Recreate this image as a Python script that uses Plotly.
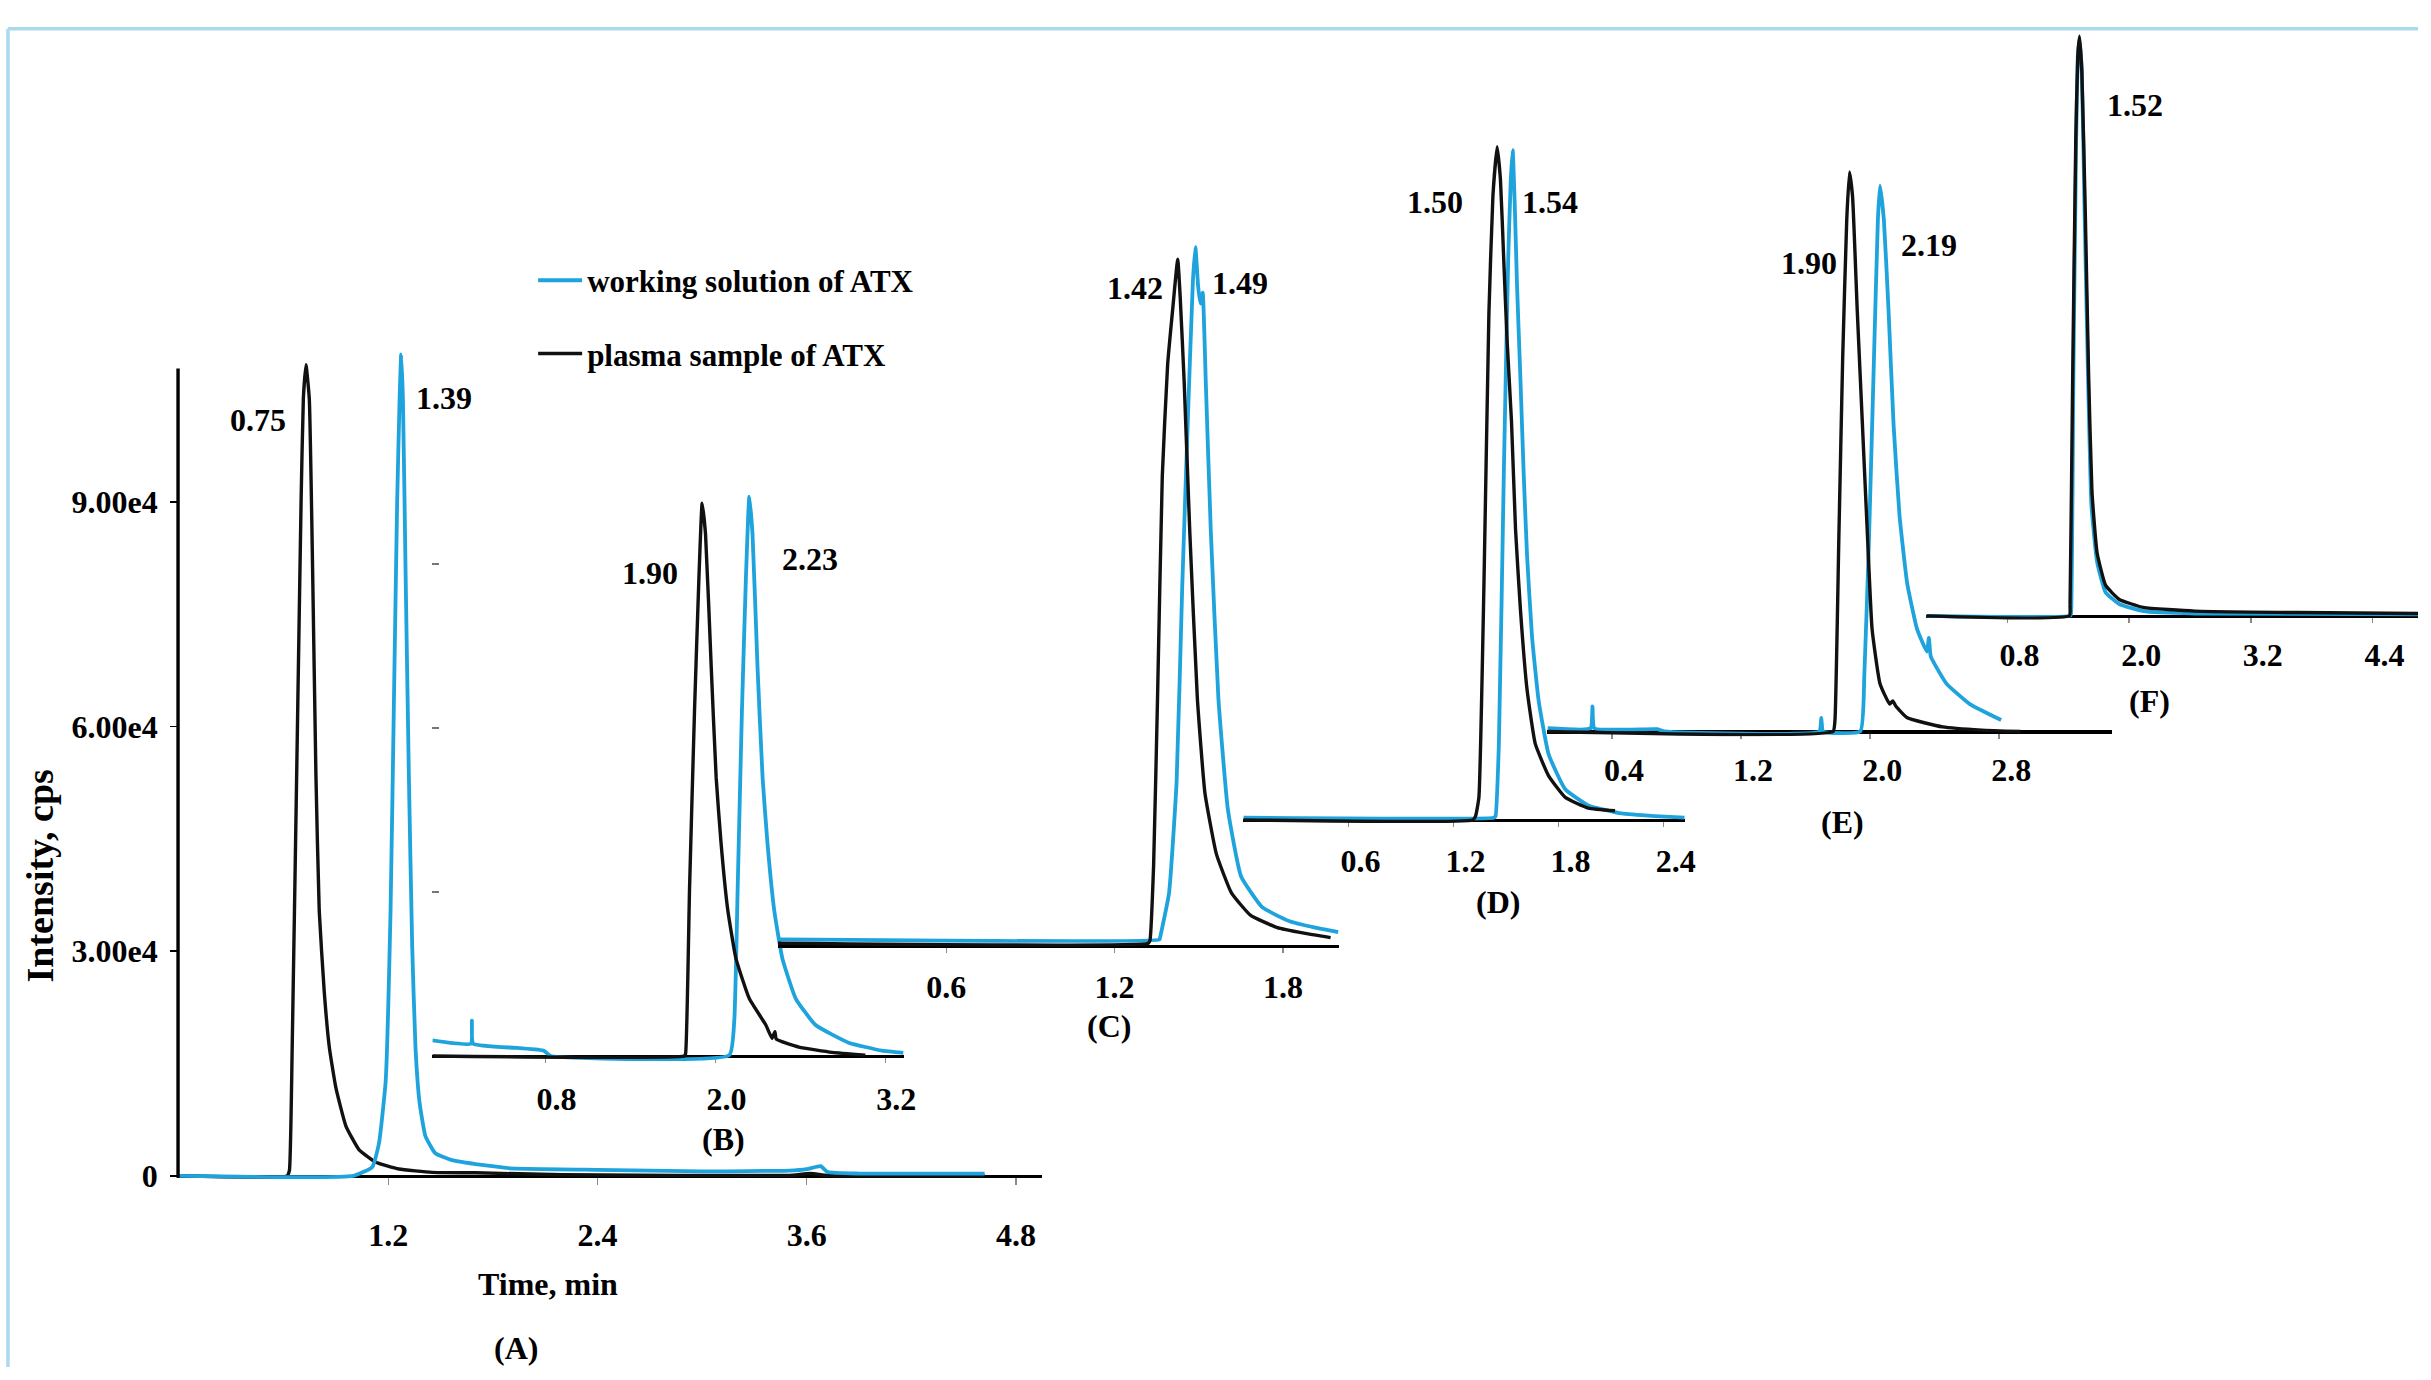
import plotly.graph_objects as go

# ---------------- data: retention time (min) and intensity (cps) ----------------
A_WORK_T = [0.0, 1.0, 1.109, 1.147, 1.185, 1.213, 1.232, 1.251, 1.265, 1.274, 1.284, 1.299, 1.318, 1.337,
            1.356, 1.379, 1.413, 1.47, 1.565, 1.736, 1.832, 1.9, 2.4, 3.0, 3.5, 3.6, 3.68, 3.72, 3.9, 4.62]
A_WORK_I = [0, 0, 1190, 4380, 12600, 35400, 62750, 90100, 103800, 109700, 103800, 81000, 53600, 30800,
            17150, 9850, 5290, 3010, 2100, 1460, 1190, 1000, 800, 600, 700, 900, 1300, 500, 300, 300]
A_PLASMA_T = [0.0, 0.62, 0.633, 0.649, 0.681, 0.700, 0.713, 0.728, 0.747, 0.766, 0.785, 0.804, 0.833, 0.862,
              0.900, 0.957, 1.033, 1.128, 1.261, 1.451, 1.7, 2.2, 3.5, 3.62, 3.72, 4.62]
A_PLASMA_I = [0, 0, 730, 17150, 62750, 90100, 103800, 108300, 103800, 81000, 53600, 35400, 24500, 17150,
              11700, 6650, 3470, 1820, 910, 460, 400, 150, 50, 300, 50, 0]

B_WORK_T = [0.0, 0.272, 0.279, 0.288, 0.6, 0.787, 0.834, 2.098, 2.133, 2.157, 2.187, 2.215, 2.239, 2.262,
            2.297, 2.333, 2.368, 2.415, 2.473, 2.567, 2.707, 2.941, 3.176, 3.328]
B_WORK_I = [2830, 2260, 6470, 2260, 1460, 970, 0, 160, 6470, 30700, 63100, 87300, 102300, 95400,
            71200, 50900, 38800, 26700, 17800, 10500, 5660, 2430, 970, 570]
B_PLASMA_T = [0.0, 1.78, 1.789, 1.817, 1.852, 1.883, 1.906, 1.93, 1.970, 2.005, 2.040, 2.087, 2.145, 2.239,
              2.356, 2.40, 2.42, 2.43, 2.59, 2.824, 3.059]
B_PLASMA_I = [0, 0, 400, 30700, 63100, 87300, 101100, 95400, 71200, 50900, 38800, 26700, 17800, 10500,
              5660, 3230, 4450, 3070, 1620, 650, 160]

C_WORK_T = [0.0, 1.36, 1.362, 1.394, 1.421, 1.441, 1.461, 1.479, 1.488, 1.498, 1.506, 1.514, 1.525, 1.543,
            1.570, 1.604, 1.651, 1.726, 1.821, 1.916, 1.997]
C_WORK_I = [1200, 1200, 1530, 9660, 30000, 65600, 96100, 121500, 127800, 120500, 117500, 119500, 103200, 75800,
            45300, 24900, 12700, 7100, 4580, 3360, 2540]
C_PLASMA_T = [0.0, 1.32, 1.326, 1.339, 1.353, 1.370, 1.389, 1.407, 1.425, 1.434, 1.448, 1.468, 1.495, 1.522,
              1.563, 1.617, 1.685, 1.780, 1.875, 1.970]
C_PLASMA_I = [500, 500, 1000, 14700, 45300, 85900, 106300, 116400, 125600, 118500, 103200, 75800, 45300, 28000,
              16800, 9660, 5600, 3360, 2340, 1530]

D_WORK_T = [0.0, 1.43, 1.44, 1.459, 1.487, 1.512, 1.527, 1.538, 1.55, 1.563, 1.582, 1.601, 1.62, 1.648,
            1.686, 1.743, 1.838, 1.97, 2.16, 2.349, 2.52]
D_WORK_I = [400, 400, 690, 13900, 63000, 102300, 117100, 122500, 112100, 97400, 80700, 63000, 48300, 33600,
            21800, 12000, 5600, 2650, 1180, 690, 400]
D_PLASMA_T = [0.0, 1.31, 1.326, 1.345, 1.374, 1.402, 1.425, 1.449, 1.468, 1.487, 1.506, 1.531, 1.554, 1.582,
              1.620, 1.667, 1.743, 1.838, 1.970, 2.122]
D_PLASMA_I = [0, 0, 690, 4120, 43400, 92500, 114100, 123100, 117100, 102300, 87600, 72900, 53200, 38500,
              23800, 13900, 8050, 4120, 2160, 1670]

E_WORK_T = [0.0, 0.267, 0.279, 0.291, 0.679, 0.727, 1.685, 1.697, 1.709, 1.939, 1.964, 1.993, 2.024, 2.048,
            2.061, 2.085, 2.114, 2.145, 2.182, 2.23, 2.291, 2.352, 2.364, 2.376, 2.473, 2.618, 2.812]
E_WORK_I = [600, 580, 4580, 580, 420, 0, 0, 2500, 0, 0, 10400, 35400, 68600, 93600,
            99800, 93600, 77000, 56200, 39500, 27000, 18700, 14600, 17100, 13700, 8740, 5000, 2080]
E_PLASMA_T = [0.0, 1.77, 1.782, 1.806, 1.830, 1.855, 1.872, 1.891, 1.92, 1.952, 1.984, 2.012, 2.061, 2.121,
              2.14, 2.16, 2.23, 2.449, 2.691, 2.933]
E_PLASMA_I = [0, 0, 2080, 35400, 68600, 93600, 102300, 97800, 77000, 56200, 35400, 18700, 8740, 5000,
              5600, 4600, 2500, 830, 250, 0]

F_WORK_T = [0.0, 1.42, 1.427, 1.45, 1.477, 1.493, 1.51, 1.533, 1.56, 1.594, 1.628, 1.684, 1.768, 1.903,
            2.14, 2.648, 4.86]
F_WORK_I = [0, 0, 430, 44000, 86800, 102200, 105600, 99600, 74000, 44000, 20100, 9830, 4280, 2140,
            860, 430, 260]
F_PLASMA_T = [0.0, 1.41, 1.417, 1.443, 1.473, 1.493, 1.51, 1.533, 1.567, 1.6, 1.633, 1.684, 1.768, 1.903,
              2.14, 2.648, 3.664, 4.86]
F_PLASMA_I = [0, 0, 2140, 44000, 86800, 102200, 106000, 99600, 74000, 44000, 22700, 11500, 5560, 3000,
              1540, 860, 600, 430]

# tick values / labels
A_XTICKS = [1.2, 2.4, 3.6, 4.8]
B_XTICKS = [0.8, 2.0, 3.2]
C_XTICKS = [0.6, 1.2, 1.8]
D_XTICKS = [0.6, 1.2, 1.8, 2.4]
E_XTICKS = [0.4, 1.2, 2.0, 2.8]
F_XTICKS = [0.8, 2.0, 3.2, 4.4]
A_YTICKS = [0, 30000, 60000, 90000]
A_YTICK_TEXT = ["0", "3.00e4", "6.00e4", "9.00e4"]
B_YTICKS = [30000, 60000, 90000]

# retention-time labels (plasma, working) and panel letters
RT_LABELS = {"A": ["0.75", "1.39"], "B": ["1.90", "2.23"], "C": ["1.42", "1.49"],
             "D": ["1.50", "1.54"], "E": ["1.90", "2.19"], "F": ["1.52"]}
PANEL_NAMES = ["(A)", "(B)", "(C)", "(D)", "(E)", "(F)"]
SERIES_NAMES = ["working solution of ATX", "plasma sample of ATX"]

# ---------------- styling / layout ----------------
W, H = 2431, 1380
BLUE = "#1FA3DC"
BLACK = "#111111"
FRAME = "#A9DBEC"
FONT = "Liberation Serif"
FS = 32


def px(x):
    return x / W


def py(y):
    return 1 - y / H


# panel geometry in page pixels: x of t=0, px per min, baseline y, px per cps
GEOM = {
    "A": dict(t0x=180.0, ppm=175.3, t_lo=-0.01, t_hi=4.95, yb=1187.0, ppu=0.00756, v_hi=112000,
              shift=0, standoff=22),
    "B": dict(t0x=434.7, ppm=142.3, t_lo=0.0, t_hi=3.33, yb=1066.0, ppu=0.00552, v_hi=110000,
              shift=11, standoff=8),
    "C": dict(t0x=782.2, ppm=282.0, t_lo=0.0, t_hi=2.0, yb=955.0, ppu=0.00552, v_hi=135000,
              shift=0, standoff=6),
    "D": dict(t0x=1250.0, ppm=176.1, t_lo=0.0, t_hi=2.52, yb=827.7, ppu=0.00552, v_hi=130000,
              shift=12, standoff=6),
    "E": dict(t0x=1555.8, ppm=162.2, t_lo=0.0, t_hi=3.50, yb=738.4, ppu=0.00552, v_hi=112000,
              shift=12, standoff=4),
    "F": dict(t0x=1936.8, ppm=101.9, t_lo=0.0, t_hi=(W - 1936.8) / 101.9, yb=621.7, ppu=0.00552,
              v_hi=112000, shift=12, standoff=4),
}
DATA = {
    "A": (A_WORK_T, A_WORK_I, A_PLASMA_T, A_PLASMA_I, A_XTICKS),
    "B": (B_WORK_T, B_WORK_I, B_PLASMA_T, B_PLASMA_I, B_XTICKS),
    "C": (C_WORK_T, C_WORK_I, C_PLASMA_T, C_PLASMA_I, C_XTICKS),
    "D": (D_WORK_T, D_WORK_I, D_PLASMA_T, D_PLASMA_I, D_XTICKS),
    "E": (E_WORK_T, E_WORK_I, E_PLASMA_T, E_PLASMA_I, E_XTICKS),
    "F": (F_WORK_T, F_WORK_I, F_PLASMA_T, F_PLASMA_I, F_XTICKS),
}
# label positions (page px centres)
RT_POS = {"A": [(259, 424), (446, 402)], "B": [(653, 578), (814, 564)], "C": [(1141, 291), (1247, 286)],
          "D": [(1443, 204), (1558, 204)], "E": [(1819, 265), (1939, 247)], "F": [(2146, 106)]}
PANEL_POS = [(519, 1361), (727, 1150), (1115, 1036), (1506, 911), (1852, 830), (2161, 708)]

fig = go.Figure()
font_kw = dict(family=FONT, size=FS, color="black", weight="bold")
V_LO_PX = 5  # pixels of headroom below baseline so lines at 0 are not clipped

for i, key in enumerate(["A", "B", "C", "D", "E", "F"]):
    g = GEOM[key]
    wt, wi, pt, pi, xt = DATA[key]
    n = "" if i == 0 else str(i + 1)
    xa, ya = "x" + n, "y" + n
    v_lo = -V_LO_PX / g["ppu"]
    xd0 = max(0.0, px(g["t0x"] + g["t_lo"] * g["ppm"]))
    xd1 = min(1.0, px(g["t0x"] + g["t_hi"] * g["ppm"]))
    yd0 = py(g["yb"] + V_LO_PX)
    yd1 = min(1.0, py(g["yb"] - g["v_hi"] * g["ppu"]))

    work = go.Scatter(x=wt, y=wi, mode="lines",
                      line=dict(color=BLUE, width=3.8, shape="spline", smoothing=0.4),
                      name=SERIES_NAMES[0], legendgroup="w", legendrank=1,
                      showlegend=(i == 0), xaxis=xa, yaxis=ya, hoverinfo="skip")
    plasma = go.Scatter(x=pt, y=pi, mode="lines",
                        line=dict(color=BLACK, width=3.4, shape="spline", smoothing=0.4),
                        name=SERIES_NAMES[1], legendgroup="p", legendrank=2,
                        showlegend=(i == 0), xaxis=xa, yaxis=ya, hoverinfo="skip")
    if key == "A":
        fig.add_trace(plasma)
        fig.add_trace(work)
    else:
        fig.add_trace(work)
        fig.add_trace(plasma)

    xaxis = dict(domain=[xd0, xd1], range=[g["t_lo"], g["t_hi"]], anchor="free", position=py(g["yb"]),
                 showline=True, linecolor="black", linewidth=3.4, showgrid=False, zeroline=False,
                 ticks="outside", tickvals=xt, tickformat=".1f", ticklen=7 if key == "A" else 5,
                 tickcolor="#8a8a8a", tickwidth=1.5, tickfont=font_kw, layer="below traces",
                 ticklabelstandoff=g["standoff"], ticklabelshift=g["shift"], fixedrange=True)
    yaxis = dict(domain=[yd0, yd1], range=[v_lo, g["v_hi"]], showgrid=False, zeroline=False,
                 fixedrange=True)
    if key == "A":
        yaxis.update(anchor="free", position=px(179), showline=False, ticks="outside",
                     tickvals=A_YTICKS, ticktext=A_YTICK_TEXT, ticklen=8, tickwidth=1.5,
                     tickcolor="black", tickfont=font_kw, ticklabelstandoff=6)
    elif key == "B":
        yaxis.update(anchor="free", position=px(441), showline=False, ticks="outside",
                     tickvals=B_YTICKS, ticklen=7, tickwidth=1.5, tickcolor="#777777",
                     showticklabels=False)
    else:
        yaxis.update(anchor=xa, visible=False)
    fig.update_layout(**{"xaxis" + n: xaxis, "yaxis" + n: yaxis})

    for txt, (lx, ly) in zip(RT_LABELS[key], RT_POS[key]):
        fig.add_annotation(text=txt, x=px(lx), y=py(ly), xref="paper", yref="paper",
                           showarrow=False, font=font_kw, xanchor="center", yanchor="middle")
    cx, cy = PANEL_POS[i]
    fig.add_annotation(text=PANEL_NAMES[i], x=px(cx), y=py(cy), xref="paper", yref="paper",
                       showarrow=False, font=font_kw, xanchor="center", yanchor="middle")

# axis titles for panel A
fig.add_annotation(text="Time, min", x=px(551), y=py(1296), xref="paper", yref="paper",
                   showarrow=False, font=font_kw, xanchor="center", yanchor="middle")
fig.add_annotation(text="Intensity, cps", x=px(40), y=py(884), xref="paper", yref="paper",
                   showarrow=False, textangle=-90,
                   font=dict(family=FONT, size=38, color="black", weight="bold"),
                   xanchor="center", yanchor="middle")

# panel A vertical axis line and the light-blue frame (left and top edges, inside the paper)
fig.add_shape(type="line", xref="paper", yref="paper", x0=px(179), x1=px(179), y0=py(1189), y1=py(372),
              line=dict(color="black", width=3.4))
fig.add_shape(type="line", xref="paper", yref="paper", x0=px(8), x1=1.0, y0=py(29), y1=py(29),
              line=dict(color=FRAME, width=3.5), layer="below")
fig.add_shape(type="line", xref="paper", yref="paper", x0=px(8), x1=px(8), y0=py(29), y1=0.0,
              line=dict(color=FRAME, width=3.5), layer="below")

fig.update_layout(
    width=W, height=H, autosize=False,
    margin=dict(l=0, r=0, t=0, b=0, pad=0),
    paper_bgcolor="white", plot_bgcolor="rgba(0,0,0,0)",
    font=dict(family=FONT, size=FS, color="black", weight="bold"),
    showlegend=True,
    legend=dict(x=px(536), y=py(256), xanchor="left", yanchor="top", bgcolor="rgba(0,0,0,0)",
                font=dict(family=FONT, size=31, color="black", weight="bold"),
                tracegroupgap=30, itemwidth=44, traceorder="grouped"),
)

# no body margin / scrollbars so the figure sits exactly in the browser viewport
POST = "document.body.style.margin='0px';document.body.style.overflow='hidden';"

fig.write_html("out.html", config={"displayModeBar": False, "staticPlot": True}, post_script=POST)
